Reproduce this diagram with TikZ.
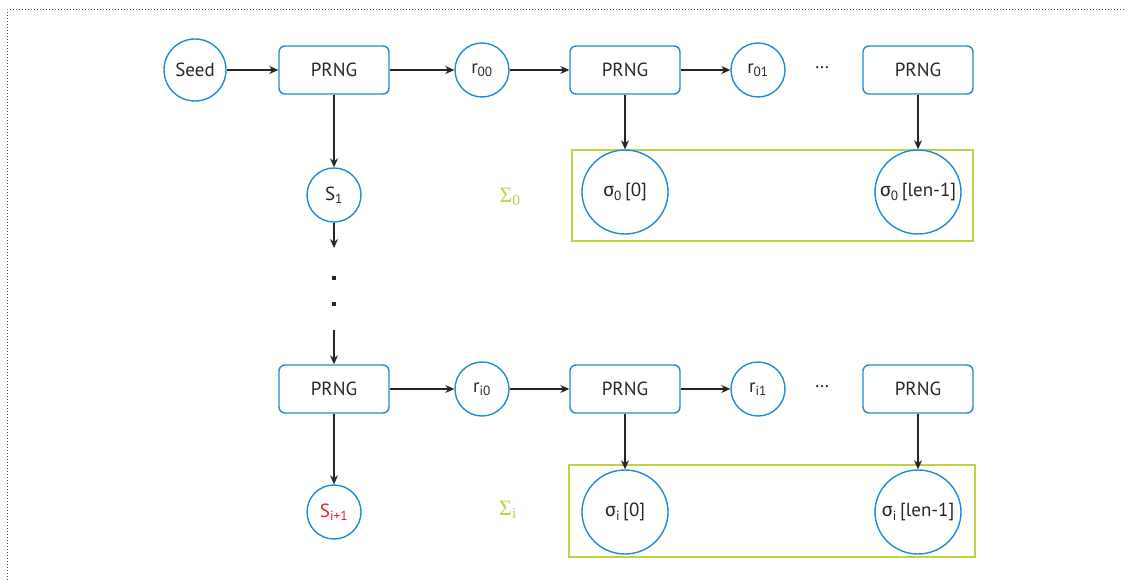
\documentclass[tikz,border=0pt]{standalone}
\usepackage{fontspec}
\setmainfont{PT Sans}
\newfontfamily\grsans{Fira Sans}
\newfontfamily\grserif{Liberation Serif}
\usetikzlibrary{arrows.meta,shapes.geometric}
\definecolor{cblue}{RGB}{30,140,210}
\definecolor{cgreen}{RGB}{190,210,70}
\definecolor{cred}{RGB}{230,30,40}
\newcommand{\sigtext}[1]{\makebox[0pt]{#1}}
\tikzset{
 circ/.style={circle, draw=cblue, line width=1.4pt, minimum size=54pt, inner sep=0pt},
 seedc/.style={circ, minimum size=62pt},
 prng/.style={rectangle, rounded corners=6pt, draw=cblue, line width=1.4pt, minimum width=110pt, minimum height=48pt},
 sig/.style={ellipse, draw=cblue, line width=1.4pt, minimum width=86pt, minimum height=84pt, inner sep=0pt},
 gbox/.style={draw=cgreen, line width=1.4pt, inner sep=0pt},
 arr/.style={-{Stealth[length=9pt,width=8pt]}, line width=1.1pt, black!85},
 vdot/.style={fill=black!85, minimum size=3.5pt, inner sep=0pt},
 glab/.style={text=cgreen, font=\fontsize{22}{24}\grserif}
}
\begin{document}
\begin{tikzpicture}[x=1pt,y=-1pt, every node/.style={font=\fontsize{19}{21}\selectfont, text=black!85}]
\useasboundingbox (0,0) rectangle (1124,580);
\draw[dotted, line width=1pt, black!70] (7,580) -- (7,10) -- (1124,10);

% green boxes (behind)
\node[gbox, minimum width=401pt, minimum height=91pt] (g0) at (772.5,195.5) {};
\node[gbox, minimum width=406pt, minimum height=92pt] (g1) at (772,511) {};

% row 1
\node[seedc] (seed) at (195,70) {Seed};
\node[prng] (p1) at (334,70) {PRNG};
\node[circ] (r00) at (482,70) {r\textsubscript{00}};
\node[prng] (p2) at (625,70) {PRNG};
\node[circ] (r01) at (758,70) {r\textsubscript{01}};
\node (d1) at (822,68) {\dots};
\node[prng] (p3) at (918,70) {PRNG};

\node[circ] (s1) at (334,195) {S\textsubscript{1}};
\coordinate (c1) at (334,248);
\node[vdot] (dot1) at (334,278) {};
\node[vdot] (dot2) at (334,304) {};
\coordinate (c2) at (334,330);

\node[glab] (S0) at (510,197) {Σ\textsubscript{0}};
\node[sig] (s00) at (625,192) {\sigtext{{\grsans σ}\textsubscript{0}\,[0]}};
\node[sig] (s01) at (918,192) {\sigtext{{\grsans σ}\textsubscript{0}\,[len-1]}};

% row 2
\node[prng] (p4) at (334,389) {PRNG};
\node[circ] (ri0) at (482,389) {r\textsubscript{i0}};
\node[prng] (p5) at (625,389) {PRNG};
\node[circ] (ri1) at (758,389) {r\textsubscript{i1}};
\node (d2) at (822,387) {\dots};
\node[prng] (p6) at (918,389) {PRNG};

\node[circ, text=cred] (si) at (334,512) {S\textsubscript{i+1}};
\node[glab] (Si) at (508,510) {Σ\textsubscript{i}};
\node[sig] (s10) at (625,512) {\sigtext{{\grsans σ}\textsubscript{i}\,[0]}};
\node[sig] (s11) at (918,512) {\sigtext{{\grsans σ}\textsubscript{i}\,[len-1]}};

% connectors
\draw[arr] (seed) -- (p1);
\draw[arr] (p1) -- (r00);
\draw[arr] (r00) -- (p2);
\draw[arr] (p2) -- (r01);
\draw[arr] (p1) -- (s1);
\draw[arr] (s1) -- (c1);
\draw[arr] (c2) -- (p4);
\draw[arr] (p2) -- (s00);
\draw[arr] (p3) -- (s01);
\draw[arr] (p4) -- (ri0);
\draw[arr] (ri0) -- (p5);
\draw[arr] (p5) -- (ri1);
\draw[arr] (p4) -- (si);
\draw[arr] (p5) -- (s10);
\draw[arr] (p6) -- (s11);
\end{tikzpicture}
\end{document}
